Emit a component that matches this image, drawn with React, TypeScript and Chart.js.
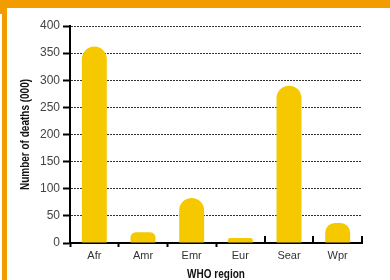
import React, { useEffect, useRef } from "react";
import { Chart, registerables } from "chart.js";

Chart.register(...registerables);

const categories = ["Afr", "Amr", "Emr", "Eur", "Sear", "Wpr"];
const deaths = [362, 20, 83, 9, 290, 37];
const yTicks = [0, 50, 100, 150, 200, 250, 300, 350, 400];
const xTitle = "WHO region";
const yTitle = "Number of deaths (000)";

const BAR_COLOR = "#F5C800";
const FRAME_COLOR = "#F29C00";
const TITLE_FONT = "bold 12.5px 'Liberation Sans', Arial, sans-serif";
const TICK_FONT = "'Liberation Sans', Arial, sans-serif";
const CONDENSE = 0.8;

const upTicksPlugin = {
  id: "upTicks",
  afterDraw(chart: any) {
    const x = chart.scales.x;
    const area = chart.chartArea;
    const ctx = chart.ctx;
    ctx.save();
    ctx.strokeStyle = "#000";
    ctx.lineWidth = 2;
    for (let i = 4; i <= categories.length; i++) {
      const px = Math.round(x.getPixelForValue(i - 0.5));
      ctx.beginPath();
      ctx.moveTo(px, area.bottom);
      ctx.lineTo(px, area.bottom - 7);
      ctx.stroke();
    }
    ctx.restore();
  },
};

const condensedTitlesPlugin = {
  id: "condensedTitles",
  afterDraw(chart: any) {
    const area = chart.chartArea;
    const ctx = chart.ctx;
    ctx.save();
    ctx.font = TITLE_FONT;
    ctx.fillStyle = "#111";
    ctx.textAlign = "center";
    ctx.textBaseline = "middle";
    // x title
    ctx.save();
    ctx.translate((area.left + area.right) / 2, 275);
    ctx.scale(CONDENSE, 1);
    ctx.fillText(xTitle, 0, 0);
    ctx.restore();
    // y title
    ctx.save();
    ctx.translate(26, (area.top + area.bottom) / 2);
    ctx.rotate(-Math.PI / 2);
    ctx.scale(CONDENSE, 1);
    ctx.fillText(yTitle, 0, 0);
    ctx.restore();
    ctx.restore();
  },
};

export default function App() {
  const ref = useRef<HTMLCanvasElement>(null);
  useEffect(() => {
    if (!ref.current) return;
    const chart = new Chart(ref.current, {
      type: "bar",
      data: {
        labels: categories,
        datasets: [
          {
            data: deaths,
            backgroundColor: BAR_COLOR,
            borderRadius: 100,
            borderSkipped: "start",
            barPercentage: 0.64,
            categoryPercentage: 0.8,
          },
        ],
      },
      options: {
        animation: false,
        responsive: false,
        maintainAspectRatio: false,
        layout: { padding: { left: 8, right: 28, top: 26, bottom: 3 } },
        plugins: { legend: { display: false }, tooltip: { enabled: false } },
        scales: {
          x: {
            afterFit: (s: any) => {
              s.height = 40;
            },
            grid: {
              display: true,
              drawOnChartArea: false,
              tickLength: 4,
              tickWidth: 2,
              tickColor: (c: any) => (c.index < 4 ? "#000" : "rgba(0,0,0,0)"),
              color: "#000",
            },
            border: { display: true, color: "#000", width: 2 },
            ticks: {
              padding: 2,
              color: "#333",
              font: { family: TICK_FONT, size: 11 },
            },
            title: { display: false },
          },
          y: {
            min: 0,
            max: 400,
            afterFit: (s: any) => {
              s.width = 62;
            },
            afterBuildTicks: (s: any) => {
              s.ticks = yTicks.map((v) => ({ value: v }));
            },
            grid: {
              color: "#333",
              lineWidth: 1,
              tickLength: 7,
              tickWidth: 2,
              tickColor: "#000",
              tickBorderDash: [],
            },
            border: { display: true, color: "#000", width: 2, dash: [2, 1] },
            ticks: {
              padding: 3,
              color: "#444",
              font: { family: TICK_FONT, size: 12 },
            },
            title: { display: false },
          },
        },
      },
      plugins: [upTicksPlugin, condensedTitlesPlugin],
    });
    return () => chart.destroy();
  }, []);

  return (
    <div
      style={{
        position: "fixed",
        left: 0,
        top: 0,
        width: 390,
        height: 280,
        overflow: "hidden",
        background: "#fff",
      }}
    >
      <canvas ref={ref} width={390} height={286} style={{ position: "absolute", left: 0, top: 0 }} />
      <div style={{ position: "absolute", left: 0, top: 0, width: 390, height: 8, background: FRAME_COLOR }} />
      <div style={{ position: "absolute", left: 0, top: 0, width: 7, height: 14, background: FRAME_COLOR }} />
      <div style={{ position: "absolute", left: 2, top: 0, width: 5, height: 280, background: FRAME_COLOR }} />
    </div>
  );
}
